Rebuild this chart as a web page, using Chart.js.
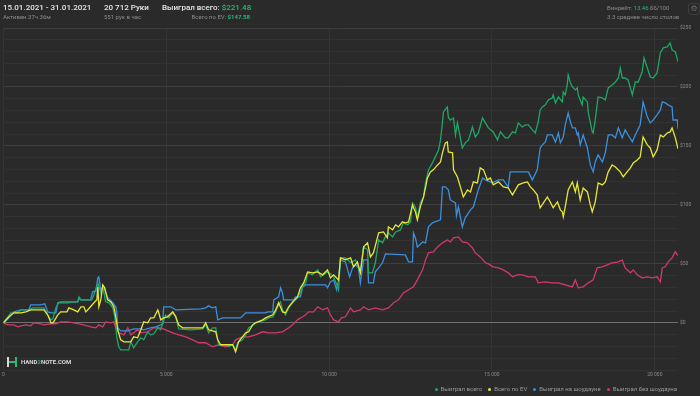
<!DOCTYPE html>
<html>
<head>
<meta charset="utf-8">
<script src="https://cdn.jsdelivr.net/npm/chart.js@4.4.1/dist/chart.umd.min.js"></script>
<style>
    body { margin: 0; background: #2a2a2a; width: 700px; height: 396px; overflow: hidden; font-family: Roboto, "Noto Sans", sans-serif; }
    #wrap { position: relative; width: 700px; height: 396px; }
    #chart { position: absolute; left: 0; top: 0; }
    .t { position: absolute; white-space: nowrap; }
    .big { font-size: 8px; line-height: 10px; font-weight: 500; color: #e6e6e6; top: 3px; }
    .small { font-size: 6px; line-height: 8px; color: #8c8c8c; top: 13px; }
    .green { color: #2fb574; }
    #gear { position: absolute; left: 688px; top: 3px; width: 12px; height: 12px; border: 1px solid #3c3c3c; border-radius: 3px; box-sizing: border-box; color: #6a6a6a; font-size: 8px; line-height: 10px; text-align: center; font-family: "DejaVu Sans"; }
    #logo { position: absolute; left: 7px; top: 357px; height: 10px; }
    #logo .bar { position: absolute; width: 2px; height: 10px; }
    #logo .cross { position: absolute; left: 2px; top: 4px; width: 6px; height: 2px; background: #2fb574; }
    #logo .txt { position: absolute; left: 14px; top: 1px; font-size: 6px; line-height: 8px; font-weight: 700; color: #d8d8d8; white-space: nowrap; }
    #legend { position: absolute; right: 23px; top: 385px; display: flex; font-size: 6px; line-height: 8px; color: #9a9a9a; }
    #legend .item { display: flex; align-items: center; margin-left: 6px; }
    #legend .dot { width: 3px; height: 3px; border-radius: 50%; margin-right: 3px; }
</style>
</head>
<body>
<div id="wrap">
    <canvas id="chart" width="700" height="396"></canvas>

    <div class="t big" style="left:3px">15.01.2021 - 31.01.2021</div>
    <div class="t small" style="left:3px">Активен 37ч 36м</div>
    <div class="t big" style="left:104px">20 712 Руки</div>
    <div class="t small" style="left:104px">551 рук в час</div>
    <div class="t big" style="left:162px">Выиграл всего: <span class="green">$221.48</span></div>
    <div class="t small" style="right:450px">Всего по EV: <span class="green" style="font-weight:700">$147.58</span></div>
    <div class="t small" style="left:607px; top:4px">Винрейт: <span class="green">13.46</span> бб/100</div>
    <div class="t small" style="left:607px; top:13px">3.3 среднее число столов</div>
    <div id="gear">⚙</div>

    <div id="logo">
        <div class="bar" style="left:0; background:#d8d8d8"></div>
        <div class="bar" style="left:8px; background:#2fb574"></div>
        <div class="cross"></div>
        <div class="txt">HAND<span class="green">2</span>NOTE.COM</div>
    </div>

    <div id="legend"></div>
</div>

<script>
// Hands played (x) and cumulative winnings in $ (y) for each line

const greenHands = [0, 230, 440, 540, 780, 900, 1240, 1360, 1460, 1520, 1610, 1700, 1980, 2070, 2280, 2320, 2380, 2710, 2780, 2900, 2990, 3050, 3140, 3240, 3360, 3420, 3480, 3540, 3600, 3850, 3910, 4000, 4120, 4220, 4310, 4430, 4520, 4620, 4740, 4830, 4980, 5080, 5200, 5290, 5350, 5380, 5750, 6120, 6210, 6300, 6420, 6520, 6580, 6610, 6820, 6920, 7040, 7130, 7190, 7340, 7440, 7530, 7650, 7740, 7840, 8050, 8140, 8270, 8360, 8450, 8510, 8570, 8660, 8760, 8880, 8970, 9060, 9190, 9280, 9340, 9490, 9650, 9740, 9830, 9950, 10040, 10140, 10260, 10290, 10350, 10500, 10660, 10810, 10960, 11060, 11180, 11210, 11330, 11420, 11520, 11640, 11730, 11820, 11950, 12040, 12190, 12280, 12410, 12500, 12560, 12650, 12710, 12800, 12900, 12960, 13050, 13170, 13260, 13360, 13420, 13480, 13510, 13630, 13660, 13720, 13820, 13880, 13940, 13970, 14090, 14180, 14280, 14400, 14490, 14580, 14710, 14800, 14890, 15040, 15170, 15260, 15410, 15500, 15630, 15720, 15810, 15930, 16030, 16120, 16240, 16330, 16420, 16480, 16550, 16640, 16730, 16850, 16880, 16950, 17040, 17160, 17190, 17250, 17310, 17340, 17410, 17470, 17560, 17620, 17650, 17770, 17800, 17930, 17960, 18080, 18110, 18170, 18260, 18390, 18480, 18570, 18690, 18790, 18880, 18940, 19000, 19090, 19180, 19310, 19400, 19490, 19610, 19670, 19770, 19860, 19950, 20070, 20170, 20260, 20380, 20470, 20530, 20630, 20712];
const greenValues = [0, 8.5, 8.5, 11.0, 11.0, 12.7, 12.7, 6.8, 2.5, 3.4, 12.7, 17.0, 17.0, 17.8, 17.8, 22.0, 19.5, 19.5, 23.7, 33.9, 25.4, 30.5, 17.8, 17.0, 12.7, 5.1, -11.9, -20.3, -22.9, -22.9, -16.1, -21.2, -16.1, -12.7, -14.4, -7.6, -10.2, -9.3, -4.2, -5.9, 6.8, 4.2, 8.5, 5.9, -1.7, -5.1, -5.9, -5.1, -1.7, -8.5, -4.2, -4.2, -14.4, -18.6, -18.6, -20.3, -18.6, -22.9, -16.9, -14.4, -10.2, -4.2, -2.5, 0, 0.8, 2.5, 4.2, 5.1, 9.3, 15.3, 17.8, 11.0, 6.8, 12.7, 17.0, 19.5, 22.0, 30.5, 33.9, 42.4, 40.7, 44.9, 39.0, 40.7, 43.2, 41.5, 39.0, 30.5, 28.0, 55.1, 55.1, 50.9, 53.4, 43.2, 64.4, 61.9, 42.4, 42.4, 50.9, 70.3, 67.8, 72.9, 76.3, 72.9, 77.1, 78.8, 84.8, 83.1, 85.6, 101.7, 98.3, 89.0, 101.7, 106.8, 118.7, 129.7, 135.6, 140.7, 146.6, 155.1, 169.5, 178.8, 183.1, 174.6, 172.0, 173.7, 159.3, 169.5, 165.3, 148.3, 152.6, 155.1, 166.1, 157.6, 161.0, 173.7, 169.5, 165.3, 161.9, 155.1, 161.9, 156.8, 156.8, 161.9, 161.0, 169.5, 166.1, 167.8, 167.8, 163.6, 161.0, 170.3, 180.5, 183.1, 184.8, 189.0, 190.7, 193.2, 186.5, 191.5, 187.3, 195.8, 193.2, 201.7, 210.2, 203.4, 200.0, 197.5, 199.2, 193.2, 184.8, 191.5, 187.3, 178.0, 161.9, 161.0, 172.0, 191.5, 190.7, 189.0, 199.2, 201.7, 204.2, 207.6, 216.1, 207.6, 207.6, 205.9, 193.2, 204.2, 204.2, 212.7, 224.6, 216.1, 208.5, 207.6, 211.9, 228.8, 233.1, 233.9, 237.3, 231.4, 229.7, 221.48];

const yellowHands = [0, 170, 320, 540, 690, 840, 1240, 1360, 1460, 1520, 1580, 1670, 1760, 1950, 2010, 2160, 2280, 2380, 2470, 2530, 2620, 2780, 2870, 2900, 2930, 2990, 3050, 3110, 3200, 3300, 3390, 3450, 3510, 3600, 3700, 3910, 4000, 4120, 4220, 4310, 4430, 4520, 4620, 4740, 4770, 4830, 4920, 5040, 5200, 5290, 5380, 5500, 6120, 6210, 6300, 6520, 6580, 6670, 7040, 7130, 7220, 7340, 7440, 7530, 7650, 7740, 7960, 8050, 8270, 8360, 8450, 8570, 8660, 8760, 8880, 9030, 9120, 9220, 9340, 9490, 9650, 9800, 9950, 10040, 10140, 10290, 10350, 10500, 10660, 10750, 10870, 10960, 11060, 11180, 11270, 11360, 11490, 11520, 11670, 11790, 11820, 11950, 12040, 12130, 12250, 12340, 12440, 12560, 12650, 12710, 12800, 12900, 13020, 13110, 13200, 13330, 13420, 13480, 13570, 13630, 13660, 13790, 13820, 13940, 14030, 14120, 14250, 14340, 14430, 14550, 14640, 14740, 14860, 14950, 15040, 15200, 15350, 15500, 15630, 15720, 15810, 15960, 16090, 16180, 16270, 16390, 16420, 16480, 16580, 16700, 16790, 16880, 17010, 17100, 17160, 17190, 17250, 17340, 17470, 17560, 17620, 17710, 17800, 17930, 18020, 18080, 18170, 18260, 18390, 18480, 18570, 18690, 18790, 18940, 19030, 19150, 19250, 19340, 19460, 19550, 19640, 19770, 19860, 19950, 20070, 20170, 20260, 20380, 20470, 20530, 20630, 20712];
const yellowValues = [0, 5.1, 8.5, 8.5, 9.3, 11.0, 11.0, 6.8, 0, 0, 2.5, 6.8, 9.3, 9.3, 12.7, 11.0, 9.3, 13.6, 13.6, 9.3, 11.9, 17.0, 19.5, 30.5, 13.6, 19.5, 32.2, 29.7, 19.5, 17.8, 13.6, 5.1, -5.9, -14.4, -16.1, -16.1, -11.9, -12.7, -5.9, 0.8, 0, 4.2, 4.2, 11.0, 8.5, 2.5, 4.2, 5.1, 9.3, 5.1, -1.7, -4.2, -4.2, 0, -5.9, -7.6, -14.4, -18.6, -18.6, -24.6, -16.1, -11.9, -8.5, -7.6, -1.7, 0, 2.5, 4.2, 6.8, 11.0, 17.0, 9.3, 8.5, 13.6, 17.8, 22.0, 29.7, 33.9, 43.2, 42.4, 43.2, 40.7, 44.9, 38.1, 40.7, 36.4, 55.1, 53.4, 55.1, 47.5, 51.7, 42.4, 64.4, 67.8, 55.9, 59.3, 72.9, 76.3, 77.1, 72.0, 81.4, 78.8, 83.1, 81.4, 85.6, 84.8, 85.6, 100.0, 94.1, 87.3, 98.3, 106.8, 122.9, 128.0, 129.7, 133.9, 136.4, 144.1, 152.6, 153.4, 144.9, 144.1, 129.7, 123.7, 115.3, 106.8, 112.7, 111.0, 119.5, 118.7, 131.4, 129.7, 121.2, 122.9, 117.0, 119.5, 115.3, 114.4, 108.5, 112.7, 117.0, 118.7, 119.5, 115.3, 112.7, 108.5, 104.2, 97.5, 101.7, 106.8, 102.5, 97.5, 102.5, 95.8, 94.1, 89.8, 98.3, 112.7, 119.5, 111.0, 118.7, 104.2, 114.4, 111.0, 100.0, 94.1, 102.5, 118.7, 117.0, 119.5, 128.0, 133.9, 132.2, 128.0, 123.7, 128.0, 131.4, 135.6, 138.1, 140.7, 157.6, 150.9, 148.3, 140.7, 146.6, 159.3, 157.6, 161.0, 161.9, 165.3, 156.8, 147.58];

const blueHands = [0, 170, 320, 540, 780, 840, 1150, 1270, 1360, 1460, 1610, 1670, 1760, 2280, 2320, 2380, 2680, 2740, 2840, 2900, 2930, 2990, 3080, 3200, 3360, 3450, 3480, 3510, 3600, 3820, 4000, 4220, 4310, 4520, 4680, 4830, 4890, 4920, 5140, 5290, 6060, 6210, 6300, 6420, 6520, 6580, 6730, 7280, 7380, 7440, 8050, 8110, 8270, 8300, 8450, 8510, 8570, 8600, 8910, 8970, 9120, 9190, 9280, 9890, 9950, 10040, 10140, 10230, 10290, 10350, 10500, 10630, 10720, 10810, 10900, 10960, 11060, 11180, 11210, 11360, 11420, 11520, 11640, 11730, 12340, 12440, 12560, 12590, 12650, 12710, 12870, 12960, 13050, 13170, 13420, 13480, 13570, 13660, 13720, 13880, 13910, 13970, 14090, 14180, 14340, 14430, 14580, 14710, 14800, 15010, 15200, 15350, 15410, 15500, 15560, 16120, 16240, 16390, 16480, 16550, 16640, 16700, 16850, 16950, 17040, 17100, 17190, 17250, 17340, 17410, 17470, 17560, 17620, 17650, 17710, 17800, 17930, 18020, 18110, 18170, 18260, 18390, 18480, 18570, 18690, 18790, 18880, 19000, 19090, 19180, 19310, 19400, 19550, 19640, 19770, 19860, 19950, 20070, 20170, 20230, 20320, 20410, 20530, 20560, 20690, 20712];
const blueValues = [0, 4.2, 9.3, 11.0, 11.0, 15.3, 15.3, 16.1, 9.3, 8.5, 8.5, 17.0, 17.8, 17.8, 20.3, 19.5, 19.5, 26.3, 27.1, 38.1, 39.0, 28.0, 30.5, 21.2, 17.0, 13.6, 9.3, -4.2, -6.8, -6.8, -5.1, -5.1, -5.9, -4.2, -3.4, -1.7, -0.8, 13.6, 13.6, 11.0, 11.9, 12.7, 14.4, 12.7, 13.6, 2.5, 4.2, 4.2, 6.8, 8.5, 8.5, 9.3, 9.3, 19.5, 22.0, 29.7, 25.4, 19.5, 19.5, 22.0, 22.0, 30.5, 32.2, 32.2, 29.7, 34.7, 36.4, 28.0, 36.4, 53.4, 51.7, 39.0, 46.6, 49.2, 46.6, 33.9, 53.4, 53.4, 33.9, 33.9, 43.2, 46.6, 50.9, 58.5, 57.6, 51.7, 51.7, 76.3, 72.0, 64.4, 68.6, 67.8, 81.4, 84.8, 87.3, 115.3, 115.3, 112.7, 104.2, 101.7, 90.7, 98.3, 81.4, 89.0, 95.8, 98.3, 112.7, 122.9, 121.2, 118.7, 121.2, 121.2, 118.7, 115.3, 128.0, 128.0, 121.2, 129.7, 148.3, 150.9, 153.4, 159.3, 159.3, 153.4, 161.0, 152.6, 157.6, 167.8, 178.0, 170.3, 165.3, 165.3, 159.3, 161.0, 150.9, 159.3, 148.3, 133.9, 128.0, 136.4, 142.4, 136.4, 144.1, 159.3, 159.3, 156.8, 165.3, 156.8, 163.6, 159.3, 153.4, 159.3, 167.8, 187.3, 174.6, 169.5, 172.0, 176.3, 180.5, 187.3, 186.5, 184.8, 183.1, 172.0, 172.0, 164.5];

const pinkHands = [0, 140, 320, 440, 540, 690, 840, 930, 1150, 1240, 1460, 1610, 1760, 1980, 2160, 2320, 2470, 2680, 2840, 2930, 3050, 3140, 3300, 3390, 3450, 3540, 3700, 3820, 3910, 4000, 4120, 4220, 4430, 4620, 4830, 4980, 5200, 5380, 5600, 5810, 6000, 6210, 6420, 6610, 6820, 7040, 7130, 7340, 7530, 7740, 7960, 8140, 8360, 8570, 8760, 8880, 9030, 9190, 9280, 9370, 9520, 9650, 9800, 9950, 10040, 10140, 10290, 10380, 10500, 10660, 10750, 10960, 11060, 11210, 11420, 11640, 11820, 11980, 12130, 12280, 12440, 12590, 12710, 12870, 12960, 13050, 13200, 13330, 13480, 13630, 13720, 13820, 13970, 14090, 14250, 14400, 14490, 14640, 14800, 14890, 15040, 15200, 15350, 15500, 15630, 15780, 15930, 16120, 16330, 16420, 16640, 16850, 17040, 17250, 17470, 17560, 17650, 17800, 17960, 18110, 18230, 18390, 18540, 18690, 18880, 19000, 19090, 19250, 19340, 19460, 19610, 19770, 19920, 20070, 20170, 20230, 20320, 20410, 20530, 20630, 20712];
const pinkValues = [0, -1.7, -1.7, -3.4, -2.5, -1.7, -2.5, 0, -0.8, -1.7, -0.8, -0.8, 0.8, 0.8, 0, -0.8, -1.7, -3.4, -4.2, -1.7, -3.4, 0.8, 0, 0.8, -4.2, -8.5, -10.2, -4.2, -10.2, -8.5, -5.9, -8.5, -7.6, -4.2, -4.2, -5.9, -8.5, -10.2, -11.9, -14.4, -16.9, -16.9, -20.3, -18.6, -20.3, -18.6, -14.4, -11.9, -11.9, -10.2, -7.6, -8.5, -8.5, -7.6, -4.2, -1.7, 2.5, 5.1, 6.8, 9.3, 9.3, 13.6, 11.0, 12.7, 6.8, 2.5, 0.8, 4.2, 5.1, 12.7, 9.3, 11.0, 13.6, 11.0, 12.7, 11.0, 12.7, 17.0, 19.5, 25.4, 28.0, 30.5, 36.4, 44.9, 53.4, 59.3, 60.2, 64.4, 67.8, 70.3, 68.6, 72.0, 72.9, 68.6, 67.8, 63.6, 59.3, 55.9, 50.9, 50.0, 47.5, 46.6, 44.9, 42.4, 39.0, 40.7, 40.7, 39.0, 39.0, 33.9, 34.7, 33.9, 33.9, 32.2, 30.5, 36.4, 29.7, 30.5, 33.9, 36.4, 46.6, 47.5, 49.2, 50.9, 51.7, 53.4, 46.6, 42.4, 44.9, 40.7, 38.1, 39.0, 38.1, 39.0, 34.7, 46.6, 47.5, 51.7, 55.1, 60.2, 57.0];

const seriesNames = ['Выиграл всего', 'Всего по EV', 'Выиграл на шоудауне', 'Выиграл без шоудауна'];
const seriesColors = ['#1ea765', '#e8e638', '#3b8fdd', '#d2386d'];
const totalHands = 20712;
const xTickValues = [0, 5000, 10000, 15000, 20000];
const yMin = -40;
const yMax = 250;
const yLabelStep = 50;

// Build point lists from the hand / value arrays
function toPoints(hands, values) {
    return hands.map((h, i) => ({ x: h, y: values[i] }));
}

// Format 15000 as "15 000"
function formatHands(value) {
    return String(value).replace(/\B(?=(\d{3})+(?!\d))/g, ' ');
}

const datasets = [
    { label: seriesNames[0], data: toPoints(greenHands, greenValues), borderColor: seriesColors[0], order: 1 },
    { label: seriesNames[1], data: toPoints(yellowHands, yellowValues), borderColor: seriesColors[1], order: 0 },
    { label: seriesNames[2], data: toPoints(blueHands, blueValues), borderColor: seriesColors[2], order: 2 },
    { label: seriesNames[3], data: toPoints(pinkHands, pinkValues), borderColor: seriesColors[3], order: 3 }
];
datasets.forEach(ds => {
    ds.borderWidth = 1.3;
    ds.pointRadius = 0;
    ds.tension = 0;
    ds.fill = false;
});

const ctx = document.getElementById('chart').getContext('2d');
new Chart(ctx, {
    type: 'line',
    data: { datasets: datasets },
    options: {
        responsive: false,
        animation: false,
        layout: { padding: { top: 28, left: 2, right: 0, bottom: 14 } },
        plugins: {
            legend: { display: false },
            tooltip: { enabled: false }
        },
        scales: {
            x: {
                type: 'linear',
                min: 0,
                max: totalHands,
                border: { display: false },
                grid: { color: '#343434', drawTicks: false },
                afterBuildTicks: scale => {
                    // fixed tick positions every 5 000 hands
                    scale.ticks = xTickValues.map(v => ({ value: v }));
                },
                ticks: {
                    maxRotation: 0,
                    autoSkip: false,
                    padding: 2,
                    color: '#8a8a8a',
                    font: { family: 'Roboto', size: 5 },
                    callback: value => formatHands(value)
                },
                afterFit: scale => { scale.height = 12; }
            },
            y: {
                position: 'right',
                min: yMin,
                max: yMax,
                border: { display: false },
                grid: {
                    drawTicks: false,
                    color: c => {
                        const v = c.tick.value;
                        if (v === 0) return '#707070';
                        if (v % yLabelStep === 0) return '#3e3e3e';
                        return '#323232';
                    }
                },
                ticks: {
                    stepSize: 10,
                    padding: 2,
                    color: '#8a8a8a',
                    font: { family: 'Roboto', size: 5 },
                    callback: value => (value % yLabelStep === 0 && value >= 0) ? '$' + value : ''
                },
                afterFit: scale => { scale.width = 22; }
            }
        }
    }
});

// Legend under the chart
const legend = document.getElementById('legend');
seriesNames.forEach((name, i) => {
    legend.innerHTML += `<div class="item"><span class="dot" style="background:${seriesColors[i]}"></span>${name}</div>`;
});
</script>
</body>
</html>
